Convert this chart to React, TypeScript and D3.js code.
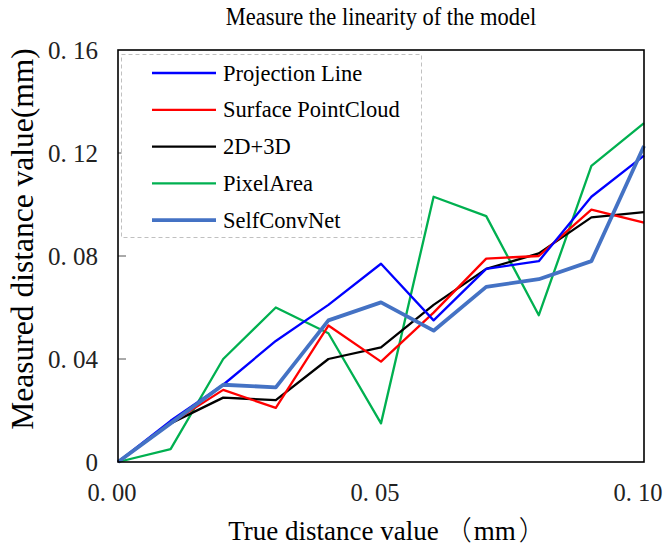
import React from "react";
import * as d3 from "d3";

const xValues = [0, 0.01, 0.02, 0.03, 0.04, 0.05, 0.06, 0.07, 0.08, 0.09, 0.1];
const projectionLine = [0, 0.016, 0.030, 0.047, 0.061, 0.077, 0.055, 0.075, 0.078, 0.103, 0.119];
const surfacePointCloud = [0, 0.015, 0.028, 0.021, 0.053, 0.039, 0.058, 0.079, 0.080, 0.098, 0.093];
const twoDthreeD = [0, 0.015, 0.025, 0.024, 0.040, 0.0445, 0.061, 0.075, 0.081, 0.095, 0.097];
const pixelArea = [0, 0.005, 0.040, 0.060, 0.050, 0.015, 0.103, 0.0955, 0.057, 0.115, 0.1316];
const selfConvNet = [0, 0.015, 0.030, 0.029, 0.055, 0.062, 0.051, 0.068, 0.071, 0.078, 0.1227];

const seriesNames = ["Projection Line", "Surface PointCloud", "2D+3D", "PixelArea", "SelfConvNet"];
const seriesValues = [projectionLine, surfacePointCloud, twoDthreeD, pixelArea, selfConvNet];
const seriesColors = ["#0000ff", "#ff0000", "#000000", "#00b050", "#4472c4"];
const seriesWidths = [2.3, 2.3, 2.3, 2.3, 3.8];

const yTicks = [0, 0.04, 0.08, 0.12, 0.16];
const yTickLabels = ["0", "0. 04", "0. 08", "0. 12", "0. 16"];
const xTicks = [0, 0.05, 0.1];
const xTickLabels = ["0. 00", "0. 05", "0. 10"];

const FONT = "'Liberation Serif', 'Times New Roman', serif";
const CJK = "'Noto Sans CJK SC', sans-serif";

export default function App() {
  const W = 664, H = 548;
  const left = 118, right = 644, top = 50, bottom = 462;
  const x = d3.scaleLinear().domain([0, 0.1]).range([left, right]);
  const y = d3.scaleLinear().domain([0, 0.16]).range([bottom, top]);
  const line = d3.line<number>().x((_, i) => x(xValues[i])).y((d) => y(d));
  const drawOrder = [3, 2, 1, 0, 4];

  return (
    <svg width={W} height={H} style={{ position: "absolute", left: 0, top: 0, background: "#fff" }}>
      <rect x={0} y={0} width={W} height={H} fill="#fff" />
      <text x={381} y={30} textAnchor="middle" fontFamily={FONT} fontSize={22.5} fill="#000"
        transform="translate(0,-4.5) scale(1,1.15)" style={{ transformOrigin: "381px 30px" }}>
        Measure the linearity of the model
      </text>
      {drawOrder.map((si) => (
        <path key={si} d={line(seriesValues[si]) || ""} fill="none" stroke={seriesColors[si]}
          strokeWidth={seriesWidths[si]} strokeLinejoin="round" />
      ))}
      {yTicks.map((t, i) => (
        <g key={t}>
          {i > 0 && i < yTicks.length - 1 && (
            <line x1={left} x2={left + 8} y1={y(t)} y2={y(t)} stroke="#555" strokeWidth={1} />
          )}
          <text x={98} y={y(t) + 8.5} textAnchor="end" fontFamily={FONT} fontSize={25} fill="#222">
            {yTickLabels[i]}
          </text>
        </g>
      ))}
      {xTicks.map((t, i) => (
        <text key={t} x={x(t) - 6} y={501} textAnchor="middle" fontFamily={FONT} fontSize={24.5} fill="#222">
          {xTickLabels[i]}
        </text>
      ))}
      <rect x={left} y={top} width={right - left} height={bottom - top} fill="none" stroke="#000" strokeWidth={1.6} />
      <g>
        <rect x={121.5} y={54.5} width={300} height={183} fill="#fff" stroke="#c0c0c0" strokeDasharray="4,3" strokeWidth={1} />
        {seriesNames.map((n, i) => {
          const yy = 73 + i * 36.8;
          return (
            <g key={n}>
              <line x1={152} x2={216} y1={yy} y2={yy} stroke={seriesColors[i]} strokeWidth={seriesWidths[i]} />
              <text x={223} y={yy + 7.5} fontFamily={FONT} fontSize={22.5} fill="#000">{n}</text>
            </g>
          );
        })}
      </g>
      <text x={387} y={540} textAnchor="middle" fontFamily={FONT} fontSize={27} fill="#000">
        True distance value<tspan dx={6} fontFamily={CJK} fontWeight={300}>（</tspan><tspan dx={2}>mm</tspan><tspan dx={3} fontFamily={CJK} fontWeight={300}>）</tspan>
      </text>
      <text transform={`translate(33,239) rotate(-90)`} textAnchor="middle" fontFamily={FONT} fontSize={31.5} fill="#000">
        Measured distance value(mm)
      </text>
    </svg>
  );
}
